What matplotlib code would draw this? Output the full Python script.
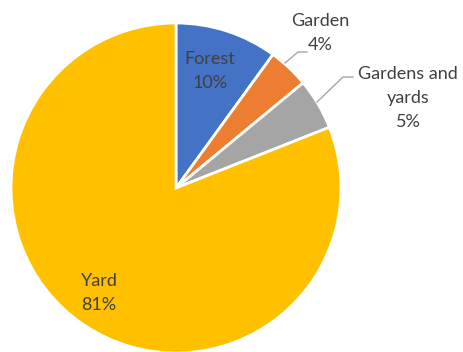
import matplotlib
matplotlib.use("Agg")
import matplotlib.pyplot as plt

categories = ["Forest", "Garden", "Gardens and\nyards", "Yard"]
shares = [10, 4, 5, 81]
colors = ["#4472C4", "#ED7D31", "#A5A5A5", "#FFC000"]

W, H = 464, 352
fig = plt.figure(figsize=(W / 100, H / 100), dpi=100)
# pie centre at (176, 188) px with a radius of 165 px
cx, cy, r = 176, 188, 165
ax = fig.add_axes([(cx - r) / W, (H - cy - r) / H, 2 * r / W, 2 * r / H])

wedges, _ = ax.pie(shares, colors=colors, startangle=90, counterclock=False,
                   radius=1.0, center=(0, 0),
                   wedgeprops=dict(edgecolor="white", linewidth=2))
for w in wedges:
    w.set_clip_on(False)
ax.set_xlim(-1, 1)
ax.set_ylim(-1, 1)
ax.set_aspect("equal")
ax.axis("off")

def px(x, y):
    return (x - cx) / r, (cy - y) / r

txt = dict(color="#404040", fontsize=13, family=["Lato", "DejaVu Sans"],
           ha="center", va="center", linespacing=1.65)
labels = [f"{c}\n{v}%" for c, v in zip(categories, shares)]
positions = [(210, 71), (320, 33), (408, 98), (99, 293)]
for lab, (x, y) in zip(labels, positions):
    ax.text(*px(x, y), lab, **txt)

# leader lines for the two narrow outside labels
leaders = [[(285, 63), (298, 52), (307, 52)],
           [(317, 102), (343, 77), (353, 77)]]
for pts in leaders:
    xs, ys = zip(*[px(x, y) for x, y in pts])
    ax.plot(xs, ys, color="#A6A6A6", lw=1, clip_on=False)

fig.savefig("out.png", dpi=100)
